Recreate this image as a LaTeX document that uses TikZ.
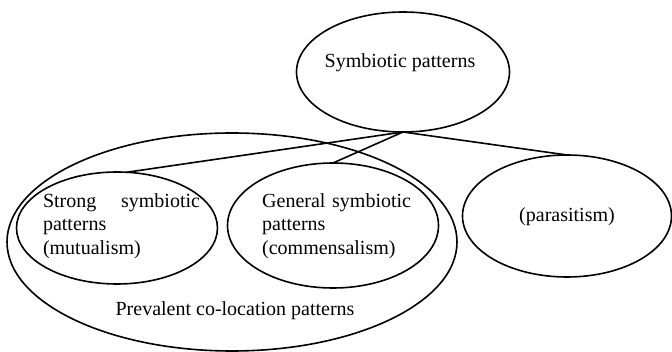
\documentclass[tikz,border=0pt]{standalone}
\usepackage{fontspec}
\setmainfont{Liberation Serif}
\usetikzlibrary{shapes.geometric}
\tikzset{
  oval/.style={draw, ellipse, line width=1.6pt, inner sep=0pt, outer sep=0pt},
  txt/.style={inner sep=0pt, font=\fontsize{20}{23.5}\selectfont},
  link/.style={line width=1.6pt}
}
\begin{document}
\begin{tikzpicture}[x=1pt,y=-1pt]
\useasboundingbox (0,0) rectangle (672,352);
% ellipses
\node[oval, minimum width=213pt, minimum height=120pt] (sym) at (403,72) {};
\node[oval, minimum width=450pt, minimum height=218pt] (prev) at (232,242) {};
\node[oval, minimum width=201pt, minimum height=112pt] (strong) at (117,228) {};
\node[oval, minimum width=211pt, minimum height=125pt] (general) at (333,225.5) {};
\node[oval, minimum width=209pt, minimum height=122pt] (para) at (567,216) {};
% texts
\node[txt] (symtext) at (400,63) {Symbiotic patterns};
\node[txt, text width=157pt, align=left] (strongtext) at (121.5,226) {Strong\hfill symbiotic\\patterns\\(mutualism)};
\node[txt, text width=160pt, align=left, anchor=west] (generaltext) at (262,226) {General symbiotic\\patterns\\(commensalism)};
\node[txt] (paratext) at (567,217) {(parasitism)};
\node[txt] (prevtext) at (235,311) {Prevalent co-location patterns};
% links
\draw[link] (sym.south) -- (strong.80);
\draw[link] (sym.south) -- (general.north);
\draw[link] (sym.south) -- (para.north);
\end{tikzpicture}
\end{document}
